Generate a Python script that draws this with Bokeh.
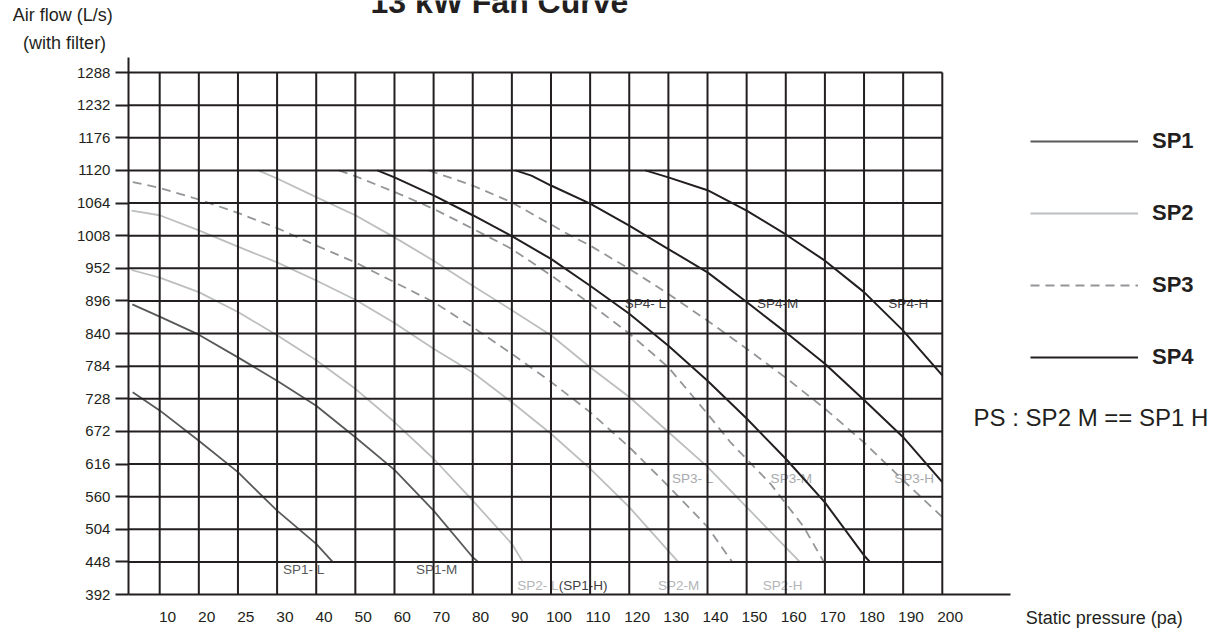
from bokeh.plotting import figure
from bokeh.models import (FixedTicker, CustomJSTickFormatter, Label, Legend,
                          LegendItem, Range1d, LinearAxis)
from bokeh.core.properties import value
from bokeh.embed import file_html
from bokeh.resources import INLINE

FONT = "Liberation Sans"
INK = "#231f20"
C_SP1 = "#58595b"
C_SP2 = "#bcbec0"
C_SP3 = "#939598"
C_SP4 = "#231f20"

# ---------------- data ----------------
y_ticks = [392, 448, 504, 560, 616, 672, 728, 784, 840, 896, 952, 1008,
           1064, 1120, 1176, 1232, 1288]
x_labels = ["10", "20", "25", "30", "40", "50", "60", "70", "80", "90", "100",
            "110", "120", "130", "140", "150", "160", "170", "180", "190", "200"]

# x = position along the grid columns (column k = k-th labelled line), y = air flow (L/s)
sp1_l_x = [-0.69, 0, 1, 2, 3, 4, 4.42]
sp1_l_y = [739, 708, 656, 602, 536, 479, 448]
sp1_m_x = [-0.7, 0, 1, 2, 3, 4, 5, 6, 7, 8, 8.14]
sp1_m_y = [890, 869, 838, 799, 759, 716, 662, 606, 536, 456, 448]

sp2_l_x = [-0.72, 0, 1, 2, 3, 4, 5, 6, 7, 8, 9, 9.28]
sp2_l_y = [949, 936, 911, 877, 837, 794, 745, 688, 625, 553, 479, 448]
sp2_m_x = [-0.72, 0, 1, 2, 3, 4, 5, 6, 7, 8, 9, 10, 11, 12, 13.25]
sp2_m_y = [1051, 1043, 1017, 989, 962, 931, 898, 858, 814, 773, 722, 668, 608, 542, 448]
sp2_h_x = [2.52, 3, 4, 5, 6, 7, 8, 9, 10, 11, 12, 13, 14, 15, 16.36]
sp2_h_y = [1120, 1106, 1074, 1043, 1005, 965, 922, 880, 837, 782, 731, 671, 611, 542, 448]

sp3_l_x = [-0.69, 0, 1, 2, 3, 4, 5, 6, 7, 8, 9, 10, 11, 12, 13, 14, 14.63]
sp3_l_y = [1100, 1090, 1070, 1047, 1021, 991, 962, 928, 894, 851, 805, 757, 705, 645, 578, 508, 448]
sp3_m_x = [4.58, 5, 6, 7, 8, 9, 10, 11, 12, 13, 14, 14.59, 15.61, 16.46, 16.97]
sp3_m_y = [1120, 1110, 1083, 1054, 1020, 985, 940, 891, 840, 782, 702, 653, 582, 508, 448]
sp3_h_x = [6.88, 8, 9, 10.5, 11, 12, 13, 14, 15, 16.04, 17, 18, 19, 20]
sp3_h_y = [1120, 1094, 1065, 1008, 991, 951, 908, 862, 814, 762, 711, 653, 588, 525]

sp4_l_x = [5.56, 6, 7, 8, 9, 10, 11, 12, 13, 14, 15, 16, 17, 18, 18.15]
sp4_l_y = [1120, 1108, 1077, 1043, 1007, 968, 922, 874, 819, 759, 694, 625, 550, 459, 448]
sp4_m_x = [9.09, 9.5, 10, 11, 12, 13, 14, 15, 16, 17, 18, 19, 20]
sp4_m_y = [1120, 1111, 1094, 1063, 1025, 985, 945, 894, 842, 788, 726, 662, 585]
sp4_h_x = [12.41, 13, 14, 15, 16, 17, 18, 19, 20]
sp4_h_y = [1120, 1108, 1086, 1051, 1010, 965, 911, 845, 768]

series_names = ["SP1", "SP2", "SP3", "SP4"]

# curve tag texts
sp1_tags = ["SP1- L", "SP1-M"]
sp2_tags = ["SP2- L", "SP2-M", "SP2-H"]
sp3_tags = ["SP3- L", "SP3-M", "SP3-H"]
sp4_tags = ["SP4- L", "SP4-M", "SP4-H"]
sp1h_tag = ["(SP1-H)"]

# ---------------- figure ----------------
n_cols = len(x_labels) - 1
x_left = -0.8          # where the air-flow axis stands
x_axis_end = 21.74     # where the pressure axis line ends
y_top = 1313.7         # top of the air-flow axis line

p = figure(width=1222, height=633, output_backend="svg", toolbar_location=None,
           x_range=Range1d(-4.0685, 27.161), y_range=Range1d(325.06, 1411.6),
           min_border_left=0, min_border_right=0, min_border_top=0,
           min_border_bottom=0, title=None, x_axis_location=None, y_axis_location=None)
p.xgrid.visible = False
p.ygrid.visible = False
p.outline_line_color = None
p.background_fill_color = "white"
p.border_fill_color = "white"

TAG = dict(text_font=value(FONT), text_font_size="13.5px", text_baseline="middle")
# curve tags (under the grid)
p.text(x=[3.68, 7.08], y=[435, 435], text=sp1_tags, text_color=C_SP1,
       text_align="center", **TAG)
p.text(x=[9.14], y=[407], text=sp2_tags[:1], text_color="#b3b5b7", text_align="left", **TAG)
p.text(x=[13.26, 15.92], y=[407, 407], text=sp2_tags[1:], text_color="#b3b5b7",
       text_align="center", **TAG)
p.text(x=[10.2], y=[407], text=sp1h_tag, text_color="#414042", text_align="left", **TAG)
p.text(x=[13.62, 16.14, 19.28], y=[591, 591, 591], text=sp3_tags, text_color="#a7a9ac",
       text_align="center", **TAG)
p.text(x=[12.41, 15.79, 19.13], y=[891, 891, 891], text=sp4_tags, text_color="#414042",
       text_align="center", **TAG)

# curves
r1 = p.multi_line([sp1_l_x, sp1_m_x], [sp1_l_y, sp1_m_y], line_color=C_SP1, line_width=1.8)
r2 = p.multi_line([sp2_l_x, sp2_m_x, sp2_h_x], [sp2_l_y, sp2_m_y, sp2_h_y],
                  line_color=C_SP2, line_width=1.8)
r3 = p.multi_line([sp3_l_x, sp3_m_x, sp3_h_x], [sp3_l_y, sp3_m_y, sp3_h_y],
                  line_color=C_SP3, line_width=1.8, line_dash="9 6")
r4 = p.multi_line([sp4_l_x, sp4_m_x, sp4_h_x], [sp4_l_y, sp4_m_y, sp4_h_y],
                  line_color=C_SP4, line_width=2)

# grid on top
grid_y = y_ticks[1:]
p.segment(x0=[x_left] * len(grid_y), y0=grid_y, x1=[n_cols] * len(grid_y), y1=grid_y,
          line_color=INK, line_width=2)
cols = list(range(n_cols + 1))
p.segment(x0=cols, y0=[y_ticks[0]] * len(cols), x1=cols, y1=[y_ticks[-1]] * len(cols),
          line_color=INK, line_width=2)

# axes, pinned to the chart corner
ya = LinearAxis(fixed_location=x_left, bounds=(y_ticks[0], y_top))
ya.ticker = FixedTicker(ticks=y_ticks)
ya.axis_line_color = INK
ya.axis_line_width = 2
ya.major_tick_out = 13
ya.major_tick_in = 0
ya.minor_tick_out = 0
ya.minor_tick_in = 0
ya.major_tick_line_color = INK
ya.major_tick_line_width = 2
ya.major_label_standoff = 5
ya.major_label_text_font = FONT
ya.major_label_text_font_size = "15px"
ya.major_label_text_color = INK
p.add_layout(ya, "left")

xa = LinearAxis(fixed_location=y_ticks[0], bounds=(x_left, x_axis_end))
xa.ticker = FixedTicker(ticks=[k + 0.2 for k in range(len(x_labels))])
xa.formatter = CustomJSTickFormatter(args=dict(labels=x_labels), code="return labels[index];")
xa.axis_line_color = INK
xa.axis_line_width = 2
xa.major_tick_out = 0
xa.major_tick_in = 0
xa.minor_tick_out = 0
xa.minor_tick_in = 0
xa.major_label_standoff = 17
xa.major_label_text_font = FONT
xa.major_label_text_font_size = "15.5px"
xa.major_label_text_color = INK
p.add_layout(xa, "below")

# legend
legend = Legend(items=[LegendItem(label=series_names[i], renderers=[r])
                       for i, r in enumerate([r1, r2, r3, r4])],
                location=(1030, 263), orientation="vertical", glyph_width=108,
                glyph_height=26, label_height=26, label_standoff=14, spacing=46,
                padding=0, margin=0, border_line_color=None, background_fill_alpha=0,
                label_text_font=FONT, label_text_font_style="bold",
                label_text_font_size="22px", label_text_color=INK)
p.add_layout(legend)

# free texts
p.add_layout(Label(x=8.68, y=1409.5, text="13 kW Fan Curve", text_font=FONT,
                   text_font_style="bold", text_font_size="32px", text_align="center",
                   text_baseline="middle", text_color=INK))
p.add_layout(Label(x=-2.48, y=1386, text="Air flow (L/s)", text_font=FONT,
                   text_font_size="18px", text_align="center", text_baseline="middle",
                   text_color=INK))
p.add_layout(Label(x=-2.43, y=1339.5, text="(with filter)", text_font=FONT,
                   text_font_size="18px", text_align="center", text_baseline="middle",
                   text_color=INK))
p.add_layout(Label(x=22.13, y=352.5, text="Static pressure (pa)", text_font=FONT,
                   text_font_size="18px", text_align="left", text_baseline="middle",
                   text_color=INK))
p.add_layout(Label(x=20.8, y=696, text="PS : SP2 M == SP1 H", text_font=FONT,
                   text_font_size="24px", text_align="left", text_baseline="middle",
                   text_color=INK))

open("out.html", "w").write(file_html(p, INLINE))
